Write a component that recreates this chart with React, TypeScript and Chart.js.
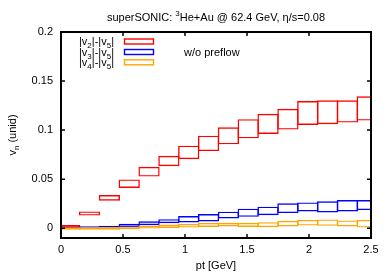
import React, { useEffect, useRef } from 'react';
import { Chart, registerables } from 'chart.js';
Chart.register(...registerables);

const binCenters = [0.07, 0.23, 0.39, 0.55, 0.71, 0.87, 1.03, 1.19, 1.35, 1.51, 1.67, 1.83, 1.99, 2.15, 2.31, 2.47];
const v2Low = [0.0008, 0.0136, 0.0287, 0.0417, 0.0533, 0.0639, 0.0711, 0.0793, 0.0862, 0.0923, 0.0968, 0.1012, 0.106, 0.1067, 0.1084, 0.1104];
const v2High = [0.0025, 0.0164, 0.033, 0.049, 0.0619, 0.0731, 0.0834, 0.0936, 0.1022, 0.1104, 0.1159, 0.121, 0.1289, 0.1296, 0.1296, 0.1337];
const v3Low = [0.0003, 0.0003, 0.0003, 0.0017, 0.0038, 0.0058, 0.0065, 0.0075, 0.0106, 0.0123, 0.014, 0.0161, 0.0178, 0.0167, 0.0178, 0.0192];
const v3High = [0.001, 0.0012, 0.0017, 0.0038, 0.0064, 0.0085, 0.0116, 0.0137, 0.0161, 0.0192, 0.0212, 0.0246, 0.0256, 0.0267, 0.028, 0.028];
const v4Low = [-0.001, -0.001, -0.001, -0.0003, 0.0003, 0.001, 0.0013, 0.002, 0.0024, 0.002, 0.0017, 0.0024, 0.0034, 0.0031, 0.0024, 0.0013];
const v4High = [0.0003, 0.0003, 0.0004, 0.001, 0.002, 0.003, 0.0038, 0.0048, 0.0048, 0.0048, 0.0054, 0.0068, 0.0079, 0.0082, 0.0072, 0.0079];

const xTicks = [0, 0.5, 1, 1.5, 2, 2.5];
const yTicks = [0, 0.05, 0.1, 0.15, 0.2];
const xLabels = ['0', '0.5', '1', '1.5', '2', '2.5'];
const yLabels = ['0', '0.05', '0.1', '0.15', '0.2'];

const seriesNames = ['v2', 'v3', 'v4'];
const seriesColors = ['#ff0000', '#0000ff', '#ffa500'];
const legendSub = ['2', '3', '4'];

const FONT = '"Liberation Sans", Arial, sans-serif';
const LINE = 1.4;

type Part = [string, number]; // 0 normal, 1 sub, 2 sup

function drawRich(ctx: CanvasRenderingContext2D, parts: Part[], x: number, baseline: number, align: 'left' | 'center' | 'right', size: number) {
  const small = Math.round(size * 0.72);
  let total = 0;
  const widths = parts.map(([t, m]) => {
    ctx.font = `${m ? small : size}px ${FONT}`;
    const w = ctx.measureText(t).width;
    total += w;
    return w;
  });
  let cx = align === 'left' ? x : align === 'center' ? x - total / 2 : x - total;
  ctx.textAlign = 'left';
  ctx.textBaseline = 'alphabetic';
  parts.forEach(([t, m], i) => {
    ctx.font = `${m ? small : size}px ${FONT}`;
    const dy = m === 1 ? size * 0.28 : m === 2 ? -size * 0.42 : 0;
    ctx.fillText(t, cx, baseline + dy);
    cx += widths[i];
  });
}

const decoPlugin = {
  id: 'deco',
  afterDatasetsDraw(chart: any) {
    const ctx: CanvasRenderingContext2D = chart.ctx;
    const { left, right, top, bottom } = chart.chartArea;
    const xs = chart.scales.x;
    const ys = chart.scales.y;
    ctx.save();
    ctx.strokeStyle = '#000';
    ctx.lineWidth = 1.5;
    ctx.beginPath();
    xs.ticks.forEach((t: any) => {
      const px = xs.getPixelForValue(t.value);
      ctx.moveTo(px, bottom);
      ctx.lineTo(px, bottom - 4);
      ctx.moveTo(px, top);
      ctx.lineTo(px, top + 4);
    });
    ys.ticks.forEach((t: any) => {
      const py = ys.getPixelForValue(t.value);
      ctx.moveTo(left, py);
      ctx.lineTo(left + 4, py);
      ctx.moveTo(right, py);
      ctx.lineTo(right - 4, py);
    });
    ctx.stroke();
    ctx.lineWidth = 2;
    ctx.strokeRect(left, top, right - left, bottom - top);

    ctx.fillStyle = '#000';
    drawRich(ctx, [['superSONIC: ', 0], ['3', 2], ['He+Au @ 62.4 GeV, η/s=0.08', 0]], (left + right) / 2, 21, 'center', 11);
    drawRich(ctx, [['pt [GeV]', 0]], (left + right) / 2, 269, 'center', 11);
    ctx.save();
    ctx.translate(16, (top + bottom) / 2);
    ctx.rotate(-Math.PI / 2);
    drawRich(ctx, [['v', 0], ['n', 1], [' (unid)', 0]], 0, 0, 'center', 11);
    ctx.restore();
    drawRich(ctx, [['w/o preflow', 0]], 184, 56, 'left', 11);
    const rowY = [41.5, 52, 62.3];
    seriesNames.forEach((_n, i) => {
      ctx.fillStyle = '#000';
      drawRich(ctx, [['|v', 0], [legendSub[i], 1], ['|-|v', 0], ['5', 1], ['|', 0]], 114, rowY[i] + 3.5, 'right', 11);
      ctx.strokeStyle = seriesColors[i];
      ctx.lineWidth = LINE;
      ctx.strokeRect(124.5, rowY[i] - 2.5, 29, 5);
    });
    ctx.restore();
  },
};

export default function App() {
  const ref = useRef<HTMLCanvasElement | null>(null);
  useEffect(() => {
    document.body.style.margin = '0';
    const lows = [v2Low, v3Low, v4Low];
    const highs = [v2High, v3High, v4High];
    const datasets = seriesNames.map((name, i) => ({
      label: name,
      data: binCenters.map((x, j) => ({ x, y: [lows[i][j], highs[i][j]] })),
      backgroundColor: 'rgba(0,0,0,0)',
      borderColor: seriesColors[i],
      // a hairline border plus inflation gives an outline of width LINE centred on the box edge
      borderWidth: 0.02,
      inflateAmount: LINE / 2,
      borderSkipped: false,
      grouped: false,
      barPercentage: 1,
      categoryPercentage: 1,
      order: 3 - i,
    }));
    const chart = new Chart(ref.current as HTMLCanvasElement, {
      type: 'bar',
      data: { datasets } as any,
      options: {
        animation: false,
        responsive: true,
        maintainAspectRatio: false,
        layout: { padding: { top: 32, right: 19, left: 0, bottom: 0 } },
        plugins: { legend: { display: false }, title: { display: false }, tooltip: { enabled: false } },
        scales: {
          x: {
            type: 'linear',
            min: 0,
            max: 2.5,
            offset: false,
            grid: { display: false, drawTicks: false, offset: false },
            border: { display: false },
            afterBuildTicks: (s: any) => { s.ticks = xTicks.map((v) => ({ value: v })); },
            afterFit: (s: any) => { s.height = 35; },
            ticks: {
              autoSkip: false,
              maxRotation: 0,
              padding: 5,
              color: '#000',
              font: { family: FONT, size: 11 },
              callback: (v: any) => xLabels[xTicks.indexOf(Number(v))] ?? String(v),
            },
          },
          y: {
            type: 'linear',
            min: -0.01,
            max: 0.2,
            grid: { display: false, drawTicks: false },
            border: { display: false },
            afterBuildTicks: (s: any) => { s.ticks = yTicks.map((v) => ({ value: v })); },
            afterFit: (s: any) => { s.width = 61; },
            ticks: {
              padding: 8,
              color: '#000',
              font: { family: FONT, size: 11 },
              callback: (v: any) => yLabels[yTicks.indexOf(Number(v))] ?? String(v),
            },
          },
        },
      } as any,
      plugins: [decoPlugin],
    });
    return () => chart.destroy();
  }, []);
  return (
    <div style={{ position: 'relative', width: 390, height: 273 }}>
      <canvas ref={ref} />
    </div>
  );
}
